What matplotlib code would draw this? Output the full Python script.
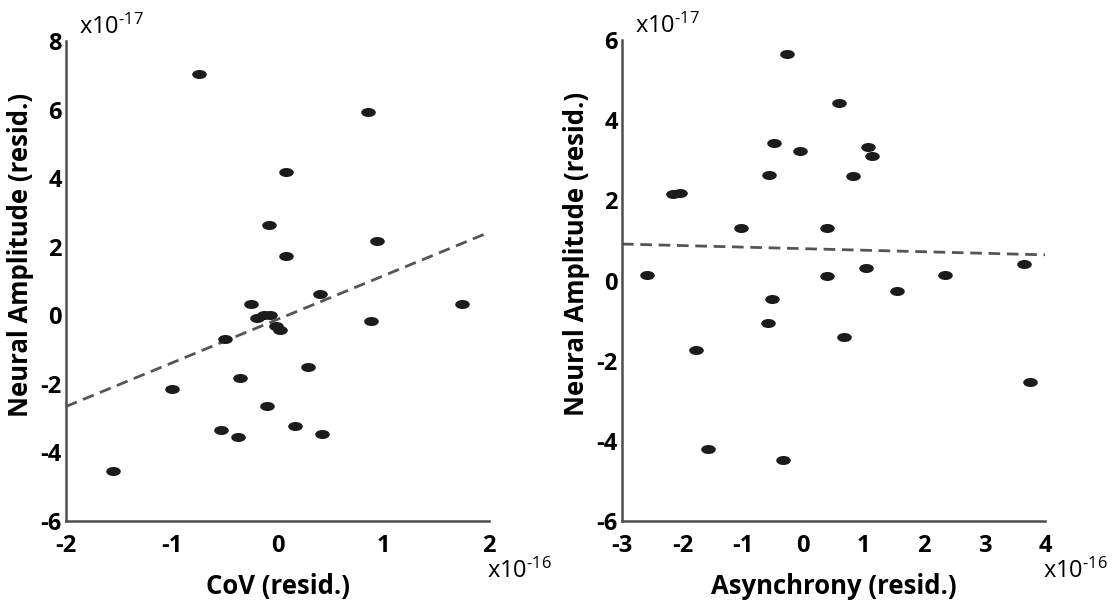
import matplotlib
matplotlib.use("Agg")
import matplotlib.pyplot as plt
from matplotlib.path import Path
from matplotlib.transforms import Affine2D

# Residual values (x in units of 1e-16, y in units of 1e-17)
cov_resid = [-0.747, 0.856, 0.085, -0.085, 0.94, 0.085, 0.40, -0.248, 1.749,
             -0.19, -0.13, -0.07, -0.017, 0.027, 0.88, -0.496, 0.292, -0.35,
             -0.995, -0.10, 0.17, -0.537, 0.418, -0.37, -1.555]
amp_vs_cov = [7.05, 5.94, 4.19, 2.62, 2.16, 1.72, 0.63, 0.32, 0.32,
              -0.07, 0.0, 0.0, -0.31, -0.44, -0.156, -0.68, -1.51, -1.83,
              -2.15, -2.66, -3.23, -3.35, -3.46, -3.55, -4.55]

asyn_resid = [-0.266, 0.598, -0.479, -0.053, 1.07, 1.14, -0.562, 0.817,
              -2.154, -2.04, -1.024, 0.385, -2.586, 0.385, 1.04, 2.34, 3.645,
              1.544, -0.52, -0.59, 0.68, -1.78, 3.76, -1.574, -0.337]
amp_vs_asyn = [5.66, 4.43, 3.43, 3.22, 3.33, 3.10, 2.64, 2.61,
               2.16, 2.19, 1.30, 1.30, 0.13, 0.10, 0.31, 0.13, 0.41,
               -0.25, -0.46, -1.05, -1.40, -1.73, -2.52, -4.21, -4.49]

# Fitted trend lines (end points)
cov_fit_x = [-2, 2]
cov_fit_y = [-2.66, 2.42]
asyn_fit_x = [-3, 4]
asyn_fit_y = [0.91, 0.64]

cov_ticks = [-2, -1, 0, 1, 2]
asyn_ticks = [-3, -2, -1, 0, 1, 2, 3, 4]
amp_ticks_left = [-6, -4, -2, 0, 2, 4, 6, 8]
amp_ticks_right = [-6, -4, -2, 0, 2, 4, 6]

FONT = "Open Sans"
plt.rcParams["font.family"] = [FONT, "DejaVu Sans"]
plt.rcParams["mathtext.fontset"] = "custom"
plt.rcParams["mathtext.rm"] = FONT
plt.rcParams["mathtext.it"] = FONT
plt.rcParams["mathtext.bf"] = FONT + ":bold"

AXIS_COLOR = "#4d4d4d"
DOT_COLOR = "#1c1c1c"
FS = 17
LABEL_FS = 18.5

ellipse = Affine2D().scale(1.0, 0.62).transform_path(Path.unit_circle())

fig = plt.figure(figsize=(11.15, 6.02), dpi=100)
W, H = 1115, 602


def make_axes(x0, x1, y0, y1):
    return fig.add_axes([x0 / W, 1 - y1 / H, (x1 - x0) / W, (y1 - y0) / H])


ax1 = make_axes(66, 489, 41, 521)
ax2 = make_axes(622, 1045, 40, 521)

panels = [
    (ax1, cov_resid, amp_vs_cov, cov_fit_x, cov_fit_y, cov_ticks,
     amp_ticks_left, (-2, 2), (-6, 8), "CoV (resid.)", "-17", "-16"),
    (ax2, asyn_resid, amp_vs_asyn, asyn_fit_x, asyn_fit_y, asyn_ticks,
     amp_ticks_right, (-3, 4), (-6, 6), "Asynchrony (resid.)", "-17", "-16"),
]

for ax, xs, ys, fx, fy, xt, yt, xlim, ylim, xlabel, yexp, xexp in panels:
    ax.plot(fx, fy, color="#555555", lw=2.0, dashes=(4.2, 2.4),
            zorder=2, clip_on=False)
    ax.plot(xs, ys, linestyle="none", marker=ellipse, markersize=10.5,
            color=DOT_COLOR, markeredgewidth=0, zorder=3, clip_on=False)
    ax.set_xlim(*xlim)
    ax.set_ylim(*ylim)
    ax.set_xticks(xt)
    ax.set_yticks(yt)
    ax.set_xticklabels([str(v) for v in xt], fontsize=FS, fontweight="bold")
    ax.set_yticklabels([str(v) for v in yt], fontsize=FS, fontweight="bold")
    ax.tick_params(axis="both", length=0)
    ax.tick_params(axis="x", pad=9)
    ax.tick_params(axis="y", pad=3)
    for side in ("top", "right"):
        ax.spines[side].set_visible(False)
    for side in ("left", "bottom"):
        ax.spines[side].set_color(AXIS_COLOR)
        ax.spines[side].set_linewidth(1.8)
    ax.set_xlabel(xlabel, fontsize=LABEL_FS, fontweight="bold")
    ax.xaxis.set_label_coords(0.5, -0.108)
    ax.set_ylabel("Neural Amplitude (resid.)", fontsize=LABEL_FS,
                  fontweight="bold")
    ax.yaxis.set_label_coords(-0.076, 0.555)
    ax.text(0.03, 1.015, r"x10$^{\text{%s}}$" % yexp, transform=ax.transAxes,
            fontsize=FS, va="baseline", ha="left")
    ax.text(0.995, -0.118, r"x10$^{\text{%s}}$" % xexp, transform=ax.transAxes,
            fontsize=FS, va="baseline", ha="left")

fig.savefig("out.png", dpi=100, facecolor="white")
